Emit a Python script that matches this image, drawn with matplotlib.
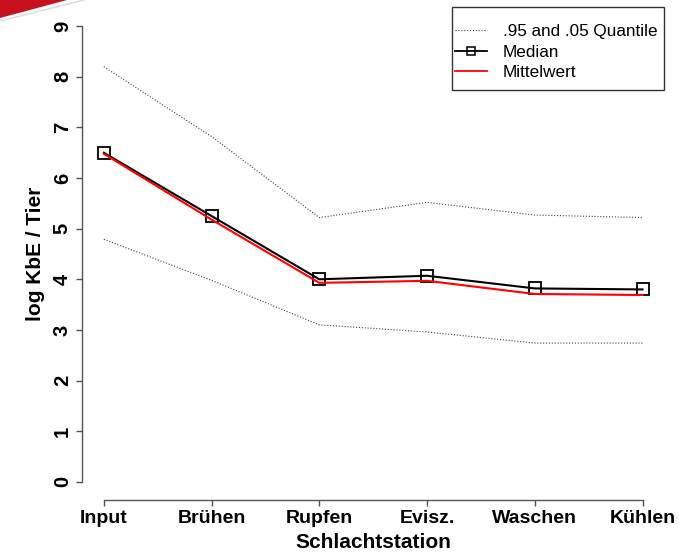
import matplotlib
matplotlib.use("Agg")
import matplotlib.pyplot as plt
from matplotlib.lines import Line2D
from matplotlib.patches import Polygon, Rectangle

plt.rcParams['font.family'] = ['Liberation Sans', 'DejaVu Sans']

stations = ["Input", "Brühen", "Rupfen", "Evisz.", "Waschen", "Kühlen"]
q95 = [8.20, 6.82, 5.22, 5.52, 5.27, 5.22]
q05 = [4.79, 3.98, 3.10, 2.96, 2.74, 2.74]
median = [6.50, 5.25, 4.00, 4.07, 3.82, 3.80]
mean = [6.48, 5.18, 3.93, 3.97, 3.71, 3.69]
yticks = list(range(0, 10))

W, H = 679, 552
fig = plt.figure(figsize=(6.79, 5.52), dpi=100)
ax = fig.add_axes([0.1212, 0.0942, 0.9780 - 0.1212, 0.9855 - 0.0942])

x = list(range(len(stations)))
ax.plot(x, q95, color='#444444', lw=0.8, linestyle=(0, (1, 1.6)))
ax.plot(x, q05, color='#444444', lw=0.8, linestyle=(0, (1, 1.6)))
ax.plot(x, median, color='black', lw=1.5, marker='s', markersize=8.6,
        markerfacecolor='none', markeredgecolor='black', markeredgewidth=1.3, zorder=3)
ax.plot(x, mean, color='#ff0000', lw=1.5, zorder=4)

n = len(stations)
ax.set_xlim(-0.2, n - 1 + 0.2)
ax.set_ylim(-0.36, 9.36)

for s in ['top', 'right']:
    ax.spines[s].set_visible(False)
for s in ['left', 'bottom']:
    ax.spines[s].set_color('#555555')
    ax.spines[s].set_linewidth(1.0)
ax.spines['left'].set_bounds(0, 9)
ax.spines['bottom'].set_bounds(0, n - 1)

ax.set_xticks(x)
ax.set_xticklabels(stations, fontsize=14, fontweight='bold')
ax.set_yticks(yticks)
ax.set_yticklabels([str(v) for v in yticks], fontsize=14.5, fontweight='bold',
                   rotation=90, va='center', ha='right')
ax.tick_params(axis='both', color='#555555', length=4.5, width=1.0)
ax.tick_params(axis='x', pad=2.5)
ax.tick_params(axis='y', pad=3)

ax.set_xlabel("Schlachtstation", fontsize=15, fontweight='bold', labelpad=4.5)
ax.set_ylabel("log KbE / Tier", fontsize=15, fontweight='bold', labelpad=6)

handles = [
    Line2D([], [], color='#444444', lw=0.8, linestyle=(0, (1, 1.6))),
    Line2D([], [], color='black', lw=1.3, marker='s', markersize=6,
           markerfacecolor='none', markeredgecolor='black', markeredgewidth=1.1),
    Line2D([], [], color='#ff0000', lw=1.3),
]
leg = fig.legend(handles, [".95 and .05 Quantile", "Median", "Mittelwert"],
                 loc='upper left', bbox_to_anchor=(455 / W, 1 - 24.0 / H),
                 bbox_transform=fig.transFigure, borderaxespad=0, borderpad=0,
                 fontsize=12.3, frameon=False,
                 handlelength=1.85, handletextpad=0.95, labelspacing=0.33)
fig.patches.append(Rectangle((452 / W, 1 - 90 / H), (664 - 452) / W, (90 - 7.3) / H,
                             transform=fig.transFigure, facecolor='none',
                             edgecolor='#333333', lw=1.0))

# slide decoration in the top-left corner
fig.patches.append(Polygon([[0, 1], [67 / W, 1], [0, 1 - 18 / H]],
                           closed=True, transform=fig.transFigure,
                           facecolor='#c8101e', edgecolor='none'))
fig.lines.append(Line2D([0, 84 / W], [1 - 21 / H, 1], transform=fig.transFigure,
                        color='#dddddd', lw=1.2))

fig.savefig("out.png", dpi=100)
